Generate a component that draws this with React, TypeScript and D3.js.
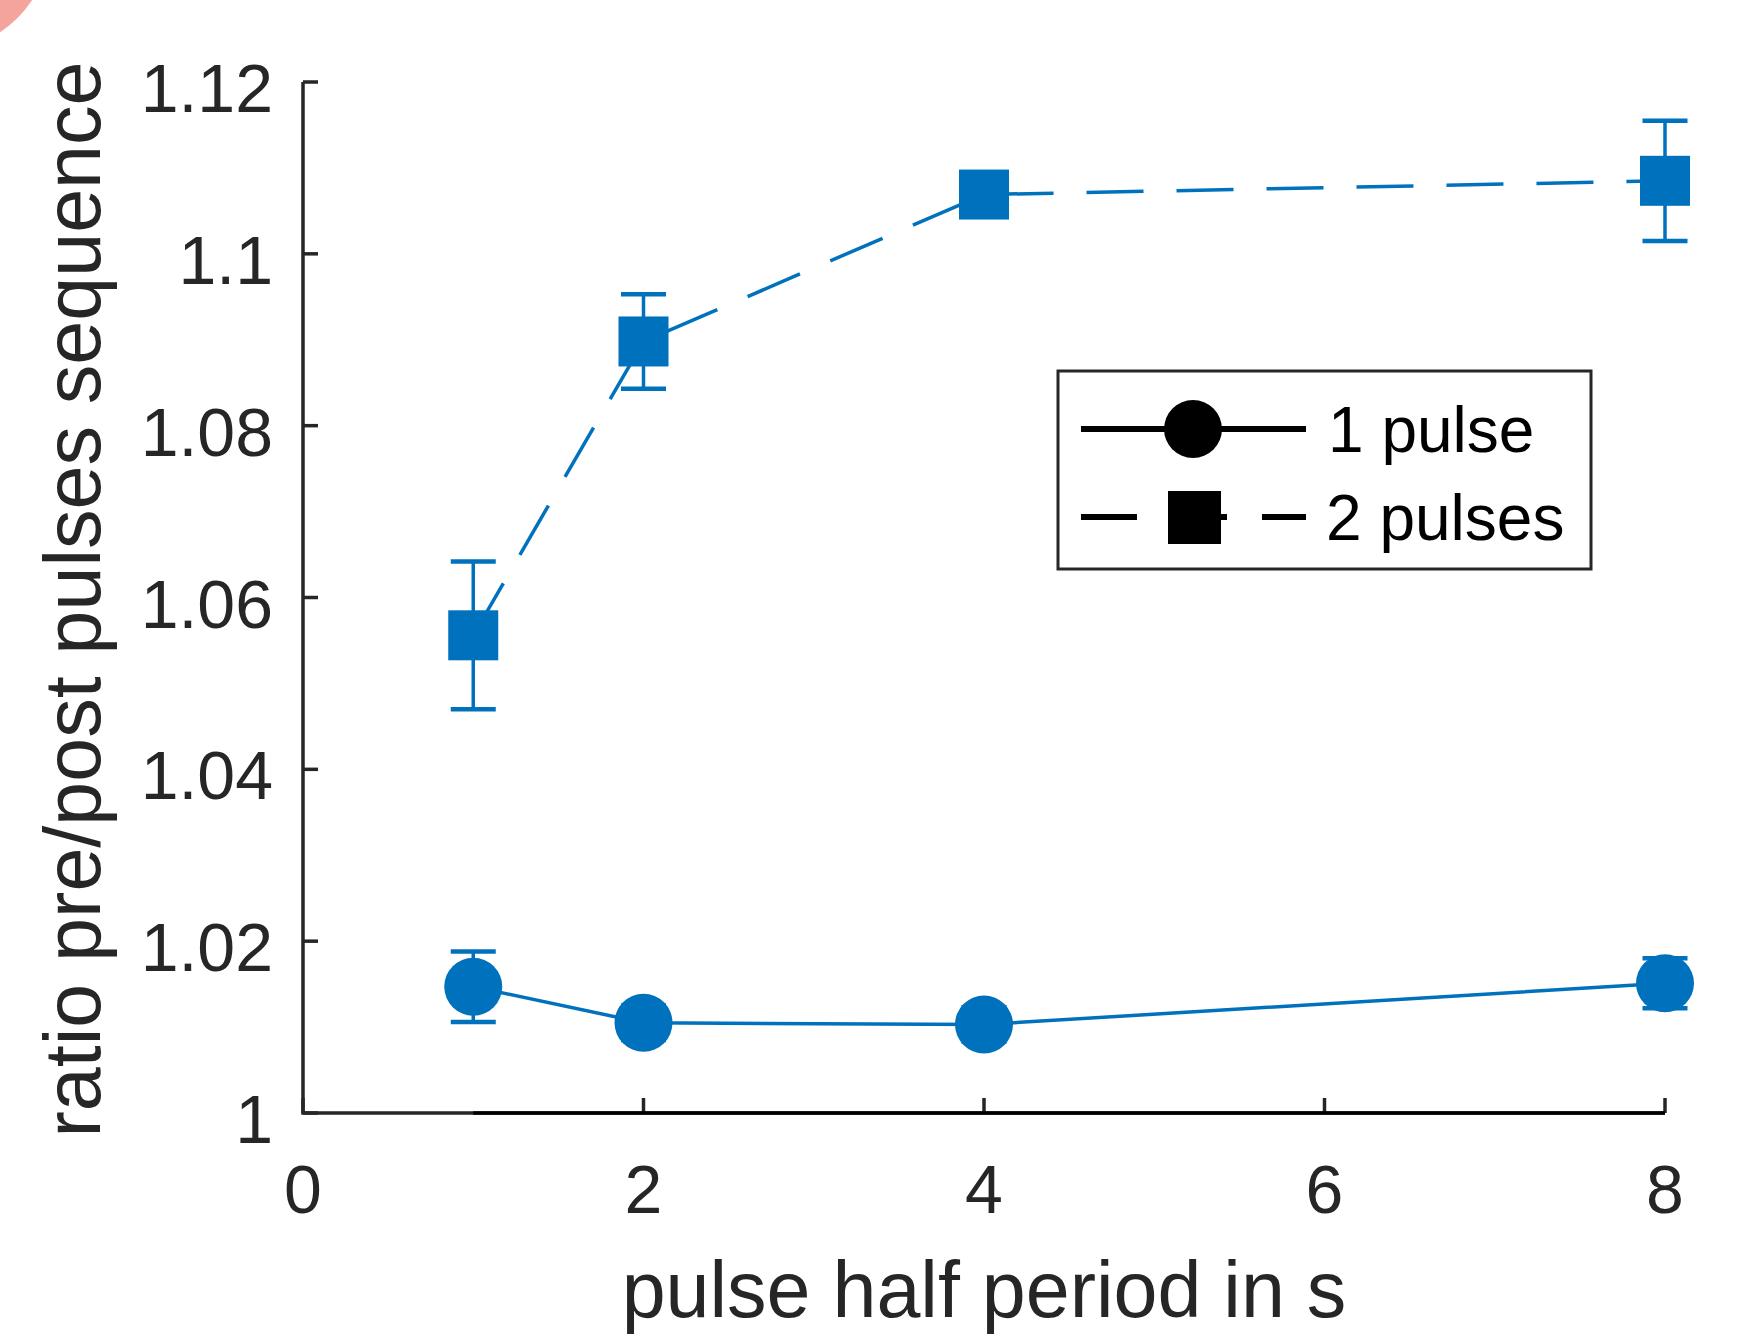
import React from "react";
import * as d3 from "d3";

// values
const halfPeriods = [1, 2, 4, 8];
const onePulse = [1.0147, 1.0105, 1.0103, 1.0151];
const onePulseErr = [0.0041, 0.002, 0.002, 0.0029];
const twoPulses = [1.0556, 1.0898, 1.1069, 1.1085];
const twoPulsesErr = [0.0086, 0.0055, 0.002, 0.007];
const xTicks = [0, 2, 4, 6, 8];
const yTicks = [1, 1.02, 1.04, 1.06, 1.08, 1.1, 1.12];
const seriesNames = ["1 pulse", "2 pulses"];

const W = 1757, H = 1340;
const blue = "#0072BD";
const axisColor = "#262626";
const font = "'Liberation Sans', Arial, Helvetica, sans-serif";

const App = () => {
  const x = d3.scaleLinear().domain([0, 8]).range([303, 1665]);
  const y = d3.scaleLinear().domain([1, 1.12]).range([1113, 82]);

  const line = d3.line<number>()
    .x((d, i) => x(halfPeriods[i]))
    .y(d => y(d));

  const capW = 45;

  const errorBars = (vals: number[], errs: number[], key: string) =>
    vals.map((v, i) => {
      const cx = x(halfPeriods[i]);
      const y0 = y(v - errs[i]), y1 = y(v + errs[i]);
      return (
        <g key={key + i} stroke={blue} strokeWidth={3.5}>
          <line x1={cx} x2={cx} y1={y0} y2={y1} />
          <line x1={cx - capW / 2} x2={cx + capW / 2} y1={y0} y2={y0} strokeWidth={4.5} />
          <line x1={cx - capW / 2} x2={cx + capW / 2} y1={y1} y2={y1} strokeWidth={4.5} />
        </g>
      );
    });

  const sq = 50;

  return (
    <div style={{ position: "absolute", left: 0, top: 0 }}>
      <svg width={W} height={H} style={{ display: "block", background: "#fff" }}>
        {/* stray pink shape in the corner */}
        <circle cx={-60} cy={-60} r={110} fill="#f5a39d" />

        {/* axes */}
        <g stroke={axisColor} strokeWidth={3.5} fill="none">
          <path d={`M${x(0)},${y(1.12)}V${y(1)}H${x(8)}`} />
          {yTicks.map(t => (
            <line key={"yt" + t} x1={x(0)} x2={x(0) + 15} y1={y(t)} y2={y(t)} />
          ))}
          {xTicks.map(t => (
            <line key={"xt" + t} x1={x(t)} x2={x(t)} y1={y(1)} y2={y(1) - 15} />
          ))}
        </g>
        {/* baseline at ratio 1 */}
        <line x1={x(1)} x2={x(8)} y1={y(1)} y2={y(1)} stroke="#000" strokeWidth={3.5} />

        <g fontFamily={font} fill={axisColor}>
          {yTicks.map(t => (
            <text key={"yl" + t} x={273} y={y(t) + 30} fontSize={68} textAnchor="end">
              {d3.format("~g")(t)}
            </text>
          ))}
          {xTicks.map(t => (
            <text key={"xl" + t} x={x(t)} y={1213} fontSize={68} textAnchor="middle">
              {t}
            </text>
          ))}
          <text x={(x(0) + x(8)) / 2} y={1317} fontSize={79} textAnchor="middle">
            pulse half period in s
          </text>
          <text
            transform={`translate(100, ${(y(1) + y(1.12)) / 2 + 2}) rotate(-90)`}
            fontSize={79}
            textAnchor="middle"
          >
            ratio pre/post pulses sequence
          </text>
        </g>

        {/* series lines */}
        <path d={line(onePulse) || ""} fill="none" stroke={blue} strokeWidth={3.5} />
        <path
          d={line(twoPulses) || ""}
          fill="none"
          stroke={blue}
          strokeWidth={3.5}
          strokeDasharray="57,33"
          strokeDashoffset={87}
        />

        {errorBars(onePulse, onePulseErr, "e1")}
        {errorBars(twoPulses, twoPulsesErr, "e2")}

        {onePulse.map((v, i) => (
          <circle key={"c" + i} cx={x(halfPeriods[i])} cy={y(v)} r={29} fill={blue} />
        ))}
        {twoPulses.map((v, i) => (
          <rect key={"s" + i} x={x(halfPeriods[i]) - sq / 2} y={y(v) - sq / 2} width={sq} height={sq} fill={blue} />
        ))}

        {/* legend */}
        <g>
          <rect x={1058} y={371} width={533} height={198} fill="#fff" stroke={axisColor} strokeWidth={3} />
          <line x1={1081} x2={1306} y1={429} y2={429} stroke="#000" strokeWidth={6} />
          <circle cx={1193} cy={429} r={29} fill="#000" />
          <line x1={1081} x2={1137} y1={517} y2={517} stroke="#000" strokeWidth={6} />
          <line x1={1195} x2={1227} y1={517} y2={517} stroke="#000" strokeWidth={6} />
          <line x1={1262} x2={1306} y1={517} y2={517} stroke="#000" strokeWidth={6} />
          <rect x={1168} y={491} width={53} height={53} fill="#000" />
          <text x={1328} y={452} fontFamily={font} fontSize={64} fill="#000">{seriesNames[0]}</text>
          <text x={1326} y={540} fontFamily={font} fontSize={64} fill="#000">{seriesNames[1]}</text>
        </g>
      </svg>
    </div>
  );
};

export default App;
